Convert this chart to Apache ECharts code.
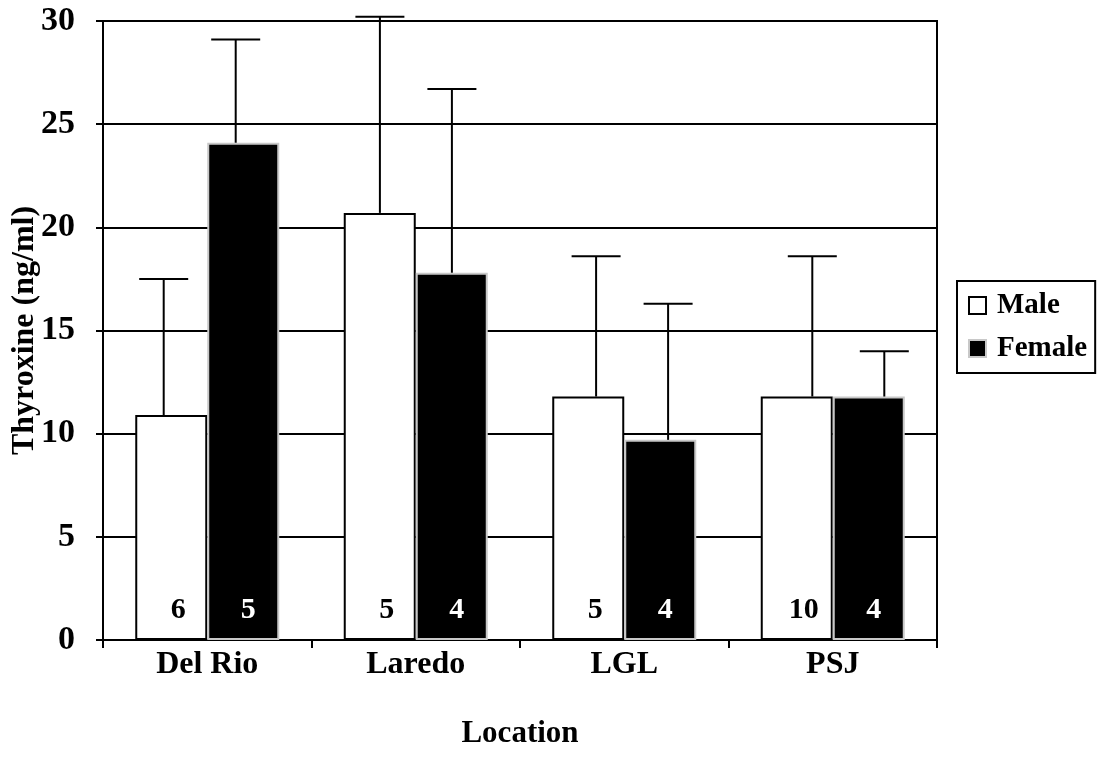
<!DOCTYPE html>
<html>
<head>
<meta charset="utf-8">
<script src="https://cdn.jsdelivr.net/npm/echarts@6/dist/echarts.min.js"></script>
<style>
  html, body { margin: 0; padding: 0; background: #fff; }
  #chart { width: 1101px; height: 769px; }
</style>
</head>
<body>
<div id="chart"></div>
<script>
// Thyroxine by location and sex: mean + SD (upper bar), with sample size in each bar
const categories = ['Del Rio', 'Laredo', 'LGL', 'PSJ'];
const maleMean = [10.9, 20.7, 11.8, 11.8];
const maleSD = [6.6, 9.5, 6.8, 6.8];
const femaleMean = [24.1, 17.8, 9.7, 11.8];
const femaleSD = [5.0, 8.9, 6.6, 2.2];
const maleN = [6, 5, 5, 10];
const femaleN = [5, 4, 4, 4];
const yMin = 0, yMax = 30, yStep = 5;

const FONT = 'Liberation Serif';
const textBase = { fontFamily: FONT, fontWeight: 'bold', color: '#000' };
const HALF_BAR = 36;   // half of the bar width, used to place error bars
const CAP = 49;        // error bar cap width

function errorRenderer(meanArr, sdArr, dx) {
  return function (params, api) {
    const i = api.value(0);
    const base = api.coord([i, meanArr[i]]);
    const top = api.coord([i, meanArr[i] + sdArr[i]]);
    const x = base[0] + dx;
    const st = { stroke: '#000', lineWidth: 2 };
    return {
      type: 'group',
      children: [
        { type: 'line', shape: { x1: x, y1: base[1], x2: x, y2: top[1] }, style: st },
        { type: 'line', shape: { x1: x - CAP / 2, y1: top[1], x2: x + CAP / 2, y2: top[1] }, style: st }
      ]
    };
  };
}

const chart = echarts.init(document.getElementById('chart'));
chart.setOption({
  animation: false,
  backgroundColor: '#fff',
  grid: [
    { left: 103, right: 164, top: 21, bottom: 129, containLabel: false, outerBoundsMode: 'none',
      show: true, borderColor: '#000', borderWidth: 2, backgroundColor: 'transparent' },
    // error bars are laid out on their own category band
    { left: 91.6, right: 144.6, top: 21, bottom: 129, containLabel: false, outerBoundsMode: 'none' }
  ],
  legend: {
    orient: 'vertical',
    left: 957, top: 281,
    padding: [10, 8, 10, 11],
    itemWidth: 17, itemHeight: 17, itemGap: 14,
    borderColor: '#000', borderWidth: 2, backgroundColor: '#fff',
    icon: 'rect',
    textStyle: Object.assign({ fontSize: 29, padding: [0, 0, 0, 6] }, textBase),
    data: ['Male', 'Female']
  },
  xAxis: [
    {
      type: 'category', gridIndex: 0, data: categories,
      name: 'Location', nameLocation: 'middle', nameGap: 78,
      nameTextStyle: Object.assign({ fontSize: 31 }, textBase),
      axisLine: { lineStyle: { color: '#000', width: 2 } },
      axisTick: { show: true, length: 8, lineStyle: { color: '#000', width: 2 } },
      axisLabel: Object.assign({ fontSize: 32, margin: 9 }, textBase),
      splitLine: { show: false }
    },
    { type: 'category', gridIndex: 1, data: categories, show: false }
  ],
  yAxis: [
    {
      type: 'value', gridIndex: 0, min: yMin, max: yMax, interval: yStep,
      name: 'Thyroxine (ng/ml)', nameLocation: 'middle', nameGap: 62, nameRotate: 90,
      nameMoveOverlap: false,
      nameTextStyle: Object.assign({ fontSize: 32 }, textBase),
      axisLine: { show: true, lineStyle: { color: '#000', width: 2 } },
      axisTick: { show: true, length: 7, lineStyle: { color: '#000', width: 2 } },
      axisLabel: Object.assign({ fontSize: 34, margin: 28 }, textBase),
      splitLine: { show: true, lineStyle: { color: '#000', width: 2 } }
    },
    { type: 'value', gridIndex: 1, min: yMin, max: yMax, interval: yStep, show: false }
  ],
  series: [
    {
      name: 'Male', type: 'bar', xAxisIndex: 0, yAxisIndex: 0,
      data: maleMean, barWidth: HALF_BAR * 2, barGap: '0%',
      itemStyle: { color: '#fff', borderColor: '#000', borderWidth: 2 },
      label: {
        show: true, position: 'insideBottom', distance: 15, offset: [7, 0],
        formatter: p => String(maleN[p.dataIndex]),
        fontSize: 30, fontFamily: FONT, fontWeight: 'bold', color: '#000'
      }
    },
    {
      name: 'Female', type: 'bar', xAxisIndex: 0, yAxisIndex: 0,
      data: femaleMean, barWidth: HALF_BAR * 2, barGap: '0%',
      itemStyle: { color: '#000', borderColor: '#c8c8c8', borderWidth: 2 },
      label: {
        show: true, position: 'insideBottom', distance: 15, offset: [5, 0],
        formatter: p => String(femaleN[p.dataIndex]),
        fontSize: 30, fontFamily: FONT, fontWeight: 'bold', color: '#fff'
      }
    },
    {
      name: 'Male SD', type: 'custom', xAxisIndex: 1, yAxisIndex: 1, z: 5,
      data: categories.map((c, i) => [i, maleMean[i] + maleSD[i]]),
      renderItem: errorRenderer(maleMean, maleSD, -HALF_BAR)
    },
    {
      name: 'Female SD', type: 'custom', xAxisIndex: 1, yAxisIndex: 1, z: 5,
      data: categories.map((c, i) => [i, femaleMean[i] + femaleSD[i]]),
      renderItem: errorRenderer(femaleMean, femaleSD, HALF_BAR)
    }
  ]
});
</script>
</body>
</html>
